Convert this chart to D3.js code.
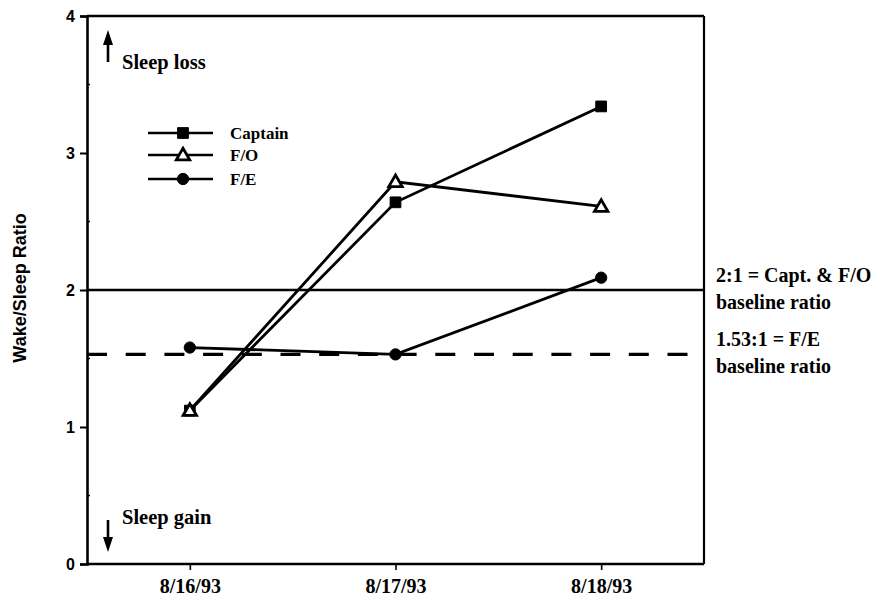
<!DOCTYPE html>
<html>
<head>
<meta charset="utf-8">
<script src="https://cdn.jsdelivr.net/npm/d3@7"></script>
<style>
  html, body { margin: 0; padding: 0; background: #fff; }
  svg { display: block; }
  text { font-family: "Liberation Serif", "Times New Roman", serif; font-weight: bold; fill: #000; }
  .sans { font-family: "Liberation Sans", Arial, sans-serif; }
</style>
</head>
<body>
<svg id="chart" width="874" height="598"></svg>
<script>
// Flight dates on the x axis
const dates = ["8/16/93", "8/17/93", "8/18/93"];

// Wake/sleep ratio per crew member
const captain = [1.12, 2.64, 3.34];
const firstOfficer = [1.12, 2.79, 2.61];
const flightEngineer = [1.58, 1.53, 2.09];

const seriesNames = ["Captain", "F/O", "F/E"];
const seriesSymbols = ["square", "triangle", "circle"];

// Baseline ratios
const baselineCaptFO = 2;
const baselineFE = 1.53;
const baselineLabels = [
  ["2:1 = Capt. & F/O", "baseline ratio"],
  ["1.53:1 = F/E", "baseline ratio"]
];

const yTicks = [0, 1, 2, 3, 4];
const yMinorTicks = [0.5, 1.5, 2.5, 3.5];

const svg = d3.select("#chart");
const plot = { left: 87, right: 704, top: 16, bottom: 564 };

const x = d3.scalePoint().domain(dates).range([plot.left, plot.right]).padding(0.5);
const y = d3.scaleLinear().domain([0, 4]).range([plot.bottom, plot.top]);

// Frame: top and right edges
svg.append("line").attr("x1", plot.left).attr("x2", plot.right).attr("y1", plot.top).attr("y2", plot.top)
  .attr("stroke", "#000").attr("stroke-width", 2.4);
svg.append("line").attr("x1", plot.right).attr("x2", plot.right).attr("y1", plot.top).attr("y2", plot.bottom)
  .attr("stroke", "#000").attr("stroke-width", 2.2);

// Y axis
const yAxis = svg.append("g").attr("transform", `translate(${plot.left},0)`)
  .call(d3.axisLeft(y).tickValues(yTicks).tickFormat(d3.format("d")).tickSize(7).tickPadding(5));
yAxis.select(".domain").attr("stroke-width", 2.6);
yAxis.selectAll(".tick line").attr("stroke-width", 2);
yAxis.selectAll(".tick text").attr("class", "sans")
  .style("font-size", "16px").style("font-weight", "bold");
svg.append("g").selectAll("line").data(yMinorTicks).join("line")
  .attr("x1", plot.left).attr("x2", plot.left + 3).attr("y1", d => y(d)).attr("y2", d => y(d))
  .attr("stroke", "#000").attr("stroke-width", 1.5);

// X axis
const xAxis = svg.append("g").attr("transform", `translate(0,${plot.bottom})`)
  .call(d3.axisBottom(x).tickSize(6).tickPadding(9));
xAxis.select(".domain").attr("d", `M${plot.left},0H${plot.right}`).attr("stroke-width", 2.6);
xAxis.selectAll(".tick line").attr("stroke-width", 1.6);
xAxis.selectAll(".tick text").style("font-size", "20px").style("font-weight", "bold")
  .style("font-family", "Liberation Serif, serif");

// Y axis title
svg.append("text").attr("class", "sans")
  .attr("transform", `translate(26,288) rotate(-90)`)
  .attr("text-anchor", "middle")
  .style("font-size", "18px")
  .text("Wake/Sleep Ratio");

// Baseline reference lines
svg.append("line").attr("x1", plot.left).attr("x2", plot.right)
  .attr("y1", y(baselineCaptFO)).attr("y2", y(baselineCaptFO))
  .attr("stroke", "#000").attr("stroke-width", 2.6);
svg.append("line").attr("x1", plot.left).attr("x2", plot.right)
  .attr("y1", y(baselineFE)).attr("y2", y(baselineFE))
  .attr("stroke", "#000").attr("stroke-width", 3.2).attr("stroke-dasharray", "20,18.7");

// Baseline labels, two lines straddling each reference line
const baselineValues = [baselineCaptFO, baselineFE];
baselineLabels.forEach((lines, i) => {
  const t = svg.append("text").attr("x", plot.right + 12)
    .attr("y", y(baselineValues[i]) - 8)
    .style("font-size", "20px");
  lines.forEach((s, j) => {
    t.append("tspan").attr("x", plot.right + 12).attr("dy", j === 0 ? 0 : 27).text(s);
  });
});

// Series
const series = [captain, firstOfficer, flightEngineer];
const line = d3.line().x((d, i) => x(dates[i])).y(d => y(d));

const symbolFor = {
  square: d3.symbol().type(d3.symbolSquare).size(115),
  triangle: d3.symbol().type(d3.symbolTriangle).size(78),
  circle: d3.symbol().type(d3.symbolCircle).size(100)
};

function drawMarker(g, kind, cx, cy) {
  const open = kind === "triangle";
  g.append("path")
    .attr("d", symbolFor[kind]())
    .attr("transform", `translate(${cx},${cy + (kind === "triangle" ? 1 : 0)})`)
    .attr("fill", open ? "#fff" : "#000")
    .attr("stroke", "#000")
    .attr("stroke-width", open ? 2.8 : 1);
}

series.forEach((vals) => {
  svg.append("path").datum(vals).attr("d", line)
    .attr("fill", "none").attr("stroke", "#000").attr("stroke-width", 2.8);
});
series.forEach((vals, si) => {
  const g = svg.append("g");
  vals.forEach((v, i) => drawMarker(g, seriesSymbols[si], x(dates[i]), y(v)));
});

// Legend
const legendY = [133, 155, 179];
seriesNames.forEach((name, i) => {
  const g = svg.append("g");
  g.append("line").attr("x1", 148).attr("x2", 213).attr("y1", legendY[i]).attr("y2", legendY[i])
    .attr("stroke", "#000").attr("stroke-width", 2.6);
  drawMarker(g, seriesSymbols[i], 183, legendY[i]);
  g.append("text").attr("x", 230).attr("y", legendY[i] + 6)
    .style("font-size", "17px").text(name);
});

// Direction arrows with notes
function arrow(x0, y0, y1) {
  const dir = y1 < y0 ? -1 : 1;
  svg.append("line").attr("x1", x0).attr("x2", x0).attr("y1", y0).attr("y2", y1 - dir * 10)
    .attr("stroke", "#000").attr("stroke-width", 2.6);
  svg.append("path")
    .attr("d", `M${x0},${y1}L${x0 - 5},${y1 - dir * 15}L${x0 + 5},${y1 - dir * 15}Z`)
    .attr("fill", "#000");
}
arrow(108, 62, 30);
svg.append("text").attr("x", 122).attr("y", 69)
  .style("font-size", "20.5px").text("Sleep loss");
arrow(108, 520, 552);
svg.append("text").attr("x", 122).attr("y", 524)
  .style("font-size", "20.5px").text("Sleep gain");
</script>
</body>
</html>
